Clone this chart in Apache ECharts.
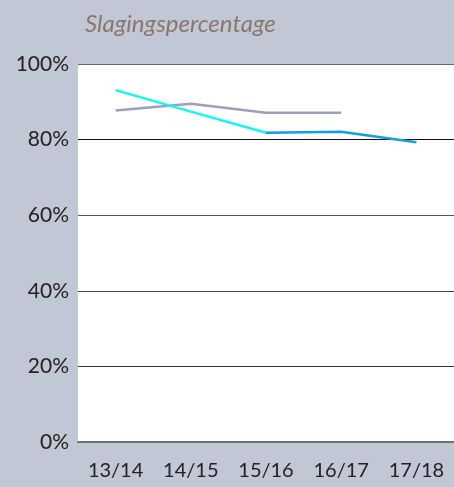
<!DOCTYPE html>
<html><head><meta charset="utf-8">
<script src="https://cdn.jsdelivr.net/npm/echarts@6/dist/echarts.min.js"></script>
<style>html,body{margin:0;padding:0;background:#c2c7d6;}#c{width:454px;height:487px;}</style>
</head><body><div id="c"></div>
<script>
const categories = ['13/14','14/15','15/16','16/17','17/18'];
const seriesGray = [87.7, 89.5, 87.1, 87.1, null];
const seriesCyan = [93.1, 87.4, 81.8, null, null];
const seriesBlue = [null, null, 81.8, 82.1, 79.3];
const yTicks = [0, 20, 40, 60, 80, 100];

const chart = echarts.init(document.getElementById('c'));
const font = 'Lato, "Open Sans", sans-serif';
chart.setOption({
  backgroundColor: '#c2c7d6',
  animation: false,
  title: {
    text: 'Slagingspercentage', left: 80, top: 7,
    textStyle: {fontFamily: font, fontStyle: 'italic', fontWeight: 'normal', fontSize: 24, color: '#8a776b'}
  },
  grid: {left: 78, right: 0, top: 64, bottom: 45, show: true, backgroundColor: '#ffffff', borderWidth: 0},
  xAxis: {
    type: 'category', data: categories, boundaryGap: true,
    axisLine: {show: true, lineStyle: {color: '#707070', width: 2}},
    axisTick: {show: false},
    axisLabel: {fontFamily: font, fontSize: 20, color: '#222', margin: 19}
  },
  yAxis: {
    type: 'value', min: yTicks[0], max: yTicks[yTicks.length-1], interval: 20,
    axisLine: {show: false}, axisTick: {show: false},
    axisLabel: {fontFamily: font, fontSize: 21, color: '#222', margin: 9, formatter: v => v + '%'},
    splitLine: {show: true, lineStyle: {color: ['#707070','#333','#444','#555','#111','#666'], width: 1}}
  },
  series: [
    {type: 'line', data: seriesGray, symbol: 'none', lineStyle: {color: '#9aa0b9', width: 2.5}, z: 2},
    {type: 'line', data: seriesCyan, symbol: 'none', lineStyle: {color: '#12f7f2', width: 2.5}, z: 3},
    {type: 'line', data: seriesBlue, symbol: 'none', lineStyle: {color: '#10a0e0', width: 2.5}, z: 3}
  ]
});
</script></body></html>
